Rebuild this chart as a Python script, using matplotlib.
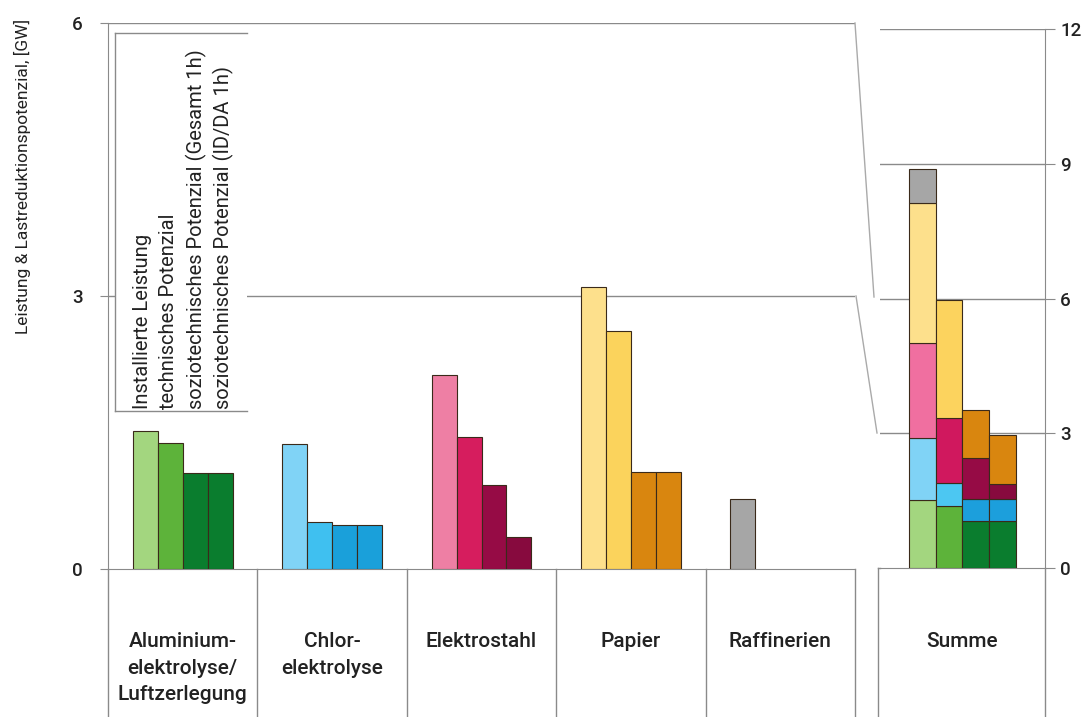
import matplotlib
matplotlib.use("Agg")
import matplotlib.pyplot as plt
import numpy as np
from matplotlib.lines import Line2D
from matplotlib.patches import Rectangle

# ---------------- data ----------------
categories = ["Aluminium-\nelektrolyse/\nLuftzerlegung", "Chlor-\nelektrolyse",
              "Elektrostahl", "Papier", "Raffinerien"]
sum_label = "Summe"
series_names = ["Installierte Leistung", "technisches Potenzial",
                "soziotechnisches Potenzial (Gesamt 1h)",
                "soziotechnisches Potenzial (ID/DA 1h)"]
# values per category: [installed, technical, socio total, socio ID/DA]  (GW)
aluminium = [1.52, 1.38, 1.05, 1.05]
chlor = [1.37, 0.52, 0.48, 0.48]
elektrostahl = [2.13, 1.45, 0.92, 0.35]
papier = [3.10, 2.62, 1.07, 1.07]
raffinerien = [0.77, 0.0, 0.0, 0.0]
left_ticks = [0, 3, 6]
right_ticks = [0, 3, 6, 9, 12]

colors = {
    "aluminium": ["#a3d67f", "#5db33a", "#0a7d2e", "#0a7d2e"],
    "chlor": ["#80d3f6", "#3fc0f0", "#1aa0da", "#1aa0da"],
    "elektrostahl": ["#ee7fa4", "#d61d5e", "#960b45", "#870a3e"],
    "papier": ["#fde08c", "#fbd35c", "#d9860f", "#d9860f"],
    "raffinerien": ["#a6a6a6", "#a6a6a6", "#a6a6a6", "#a6a6a6"],
}
sum_colors = {
    "aluminium": ["#a3d67f", "#5db33a", "#0a7d2e", "#0a7d2e"],
    "chlor": ["#80d3f6", "#4cc7f2", "#1c9fdc", "#1c9fdc"],
    "elektrostahl": ["#f06fa0", "#d0185e", "#960b45", "#870a3e"],
    "papier": ["#fde08c", "#fcd35e", "#d9860f", "#d9860f"],
    "raffinerien": ["#a6a6a6", "#a6a6a6", "#a6a6a6", "#a6a6a6"],
}
keys = ["aluminium", "chlor", "elektrostahl", "papier", "raffinerien"]
values = {"aluminium": aluminium, "chlor": chlor, "elektrostahl": elektrostahl,
          "papier": papier, "raffinerien": raffinerien}

# ---------------- figure ----------------
W, H = 1085, 717
fig = plt.figure(figsize=(W / 100, H / 100), dpi=100)
FONT = ["Roboto", "DejaVu Sans"]
FW = "medium"
TXT = "#222222"
GRID = "#8a8a8a"

def fx(px):
    return px / W

def fy(py):
    return 1 - py / H

# main axes: x 108..855, y0 at 569, y6 at 23
ax = fig.add_axes([fx(108), fy(569), fx(855) - fx(108), fy(23) - fy(569)])
ax.set_xlim(0, 5)
ax.set_ylim(0, 6)
for s in ["top", "right"]:
    ax.spines[s].set_visible(False)
ax.spines["left"].set_color(GRID)
ax.spines["bottom"].set_color(GRID)
ax.set_xticks([])
ax.set_yticks(left_ticks)
ax.set_yticklabels([str(t) for t in left_ticks], fontfamily=FONT, fontsize=13.5,
                   fontweight=FW, color=TXT)
ax.tick_params(axis="y", length=6, color=GRID, pad=12)
for t in left_ticks[1:]:
    ax.axhline(t, color=GRID, lw=1, zorder=0)

bw = 0.167
offsets = np.array([-1.5, -0.5, 0.5, 1.5]) * bw
for i, k in enumerate(keys):
    v = values[k]
    for j in range(4):
        if v[j] > 0:
            ax.bar(i + 0.5 + offsets[j], v[j], width=bw, color=colors[k][j],
                   edgecolor="#3a2a1a", linewidth=0.8, zorder=3)

# category boxes below axis
box_depth = (717 - 569) / (569 - 23)
for b in range(6):
    ax.plot([b, b], [0, -box_depth], transform=ax.get_xaxis_transform(),
            color=GRID, lw=1, clip_on=False)
for i, lab in enumerate(categories):
    ax.text(i + 0.5, -(632 - 569) / (569 - 23), lab, transform=ax.get_xaxis_transform(),
            ha="center", va="top", fontfamily=FONT, fontsize=15, fontweight=FW,
            color=TXT, linespacing=1.5)

# legend box (covers grid)
lb_left, lb_right, lb_top, lb_bot = 115, 247, 33, 411
rect = Rectangle((fx(lb_left), fy(lb_bot)), fx(lb_right) - fx(lb_left), fy(lb_top) - fy(lb_bot),
                 transform=fig.transFigure, facecolor="white", edgecolor="none", zorder=5)
fig.patches.append(rect)
for (x0, y0, x1, y1) in [(lb_left, lb_top, lb_right, lb_top), (lb_left, lb_bot, lb_right, lb_bot),
                         (lb_left, lb_top, lb_left, lb_bot)]:
    fig.add_artist(Line2D([fx(x0), fx(x1)], [fy(y0), fy(y1)], color=GRID, lw=1, zorder=6))
for n, (name, xp) in enumerate(zip(series_names, [142, 169, 196, 223])):
    fig.text(fx(xp), fy(409), name, rotation=90, ha="center", va="bottom",
             fontfamily=FONT, fontsize=14.5, fontweight="normal", color=TXT, zorder=7)

# y label
fig.text(fx(22), fy(176), "Leistung & Lastreduktionspotenzial, [GW]", rotation=90,
         ha="center", va="center", fontfamily=FONT, fontsize=12.5, fontweight="normal",
         color=TXT)

# right (Summe) axes: x 880..1045, y0 at 568, y12 at 29
ax2 = fig.add_axes([fx(880), fy(568), fx(1045) - fx(880), fy(29) - fy(568)])
ax2.set_ylim(0, 12)
ax2.set_xlim(0, 6.17)
for s in ["top", "left"]:
    ax2.spines[s].set_visible(False)
ax2.spines["right"].set_color(GRID)
ax2.spines["bottom"].set_color(GRID)
ax2.set_xticks([])
ax2.yaxis.tick_right()
ax2.set_yticks(right_ticks)
ax2.set_yticklabels([str(t) for t in right_ticks], fontfamily=FONT, fontsize=13.5,
                    fontweight=FW, color=TXT)
ax2.tick_params(axis="y", length=7, color=GRID, pad=4)
for t in right_ticks[1:]:
    ax2.axhline(t, color=GRID, lw=1, zorder=0)

bottoms = np.zeros(4)
for k in keys:
    v = np.array(values[k])
    for j in range(4):
        if v[j] > 0:
            ax2.bar(1.58 + j, v[j], bottom=bottoms[j], width=1.0, color=sum_colors[k][j],
                    edgecolor="#3a2a1a", linewidth=0.8, zorder=3)
    bottoms += v

# Summe box
xl = -(880 - 878) / 165 * 6.17
ax2.plot([xl, xl], [0, -(717 - 568) / (568 - 29)],
         transform=ax2.get_xaxis_transform(), color=GRID, lw=1, clip_on=False)
ax2.plot([6.17, 6.17], [0, -(717 - 568) / (568 - 29)], transform=ax2.get_xaxis_transform(),
         color=GRID, lw=1, clip_on=False)
ax2.plot([xl, 0], [0, 0], transform=ax2.get_xaxis_transform(),
         color=GRID, lw=1, clip_on=False)
ax2.text(6.17 / 2, -(632 - 568) / (568 - 29), sum_label, transform=ax2.get_xaxis_transform(),
         ha="center", va="top", fontfamily=FONT, fontsize=15, fontweight=FW, color=TXT)

# connecting diagonals
for (x0, y0, x1, y1) in [(855, 23, 874, 297), (856, 296, 877, 433)]:
    fig.add_artist(Line2D([fx(x0), fx(x1)], [fy(y0), fy(y1)], color="#aaaaaa", lw=1))

fig.savefig("out.png", dpi=100)
